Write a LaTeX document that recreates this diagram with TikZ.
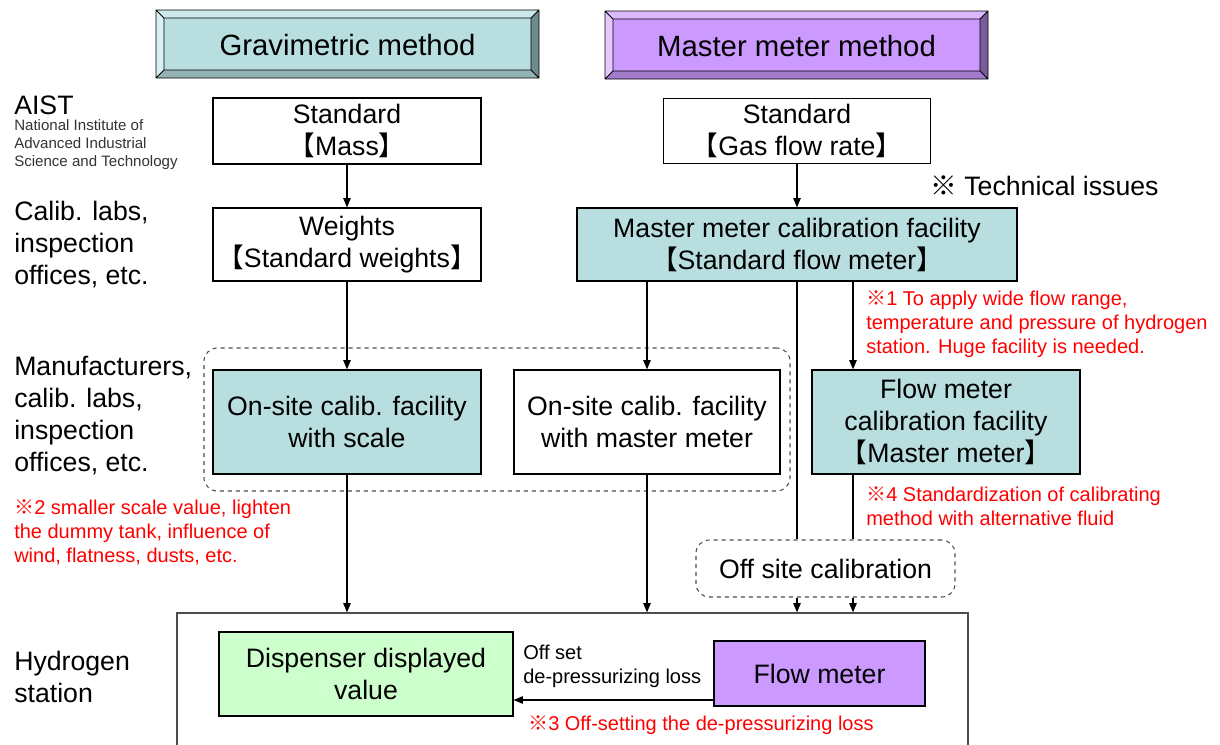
\documentclass[tikz,border=0pt]{standalone}
\usepackage{fontspec}
\setmainfont{Liberation Sans}
\newfontfamily\cjk{Noto Sans CJK JP}
\usetikzlibrary{arrows.meta}
\newcommand\kL{{\cjk 【}}
\newcommand\kR{{\cjk 】}}
\newcommand\kome{{\cjk ※}}
\definecolor{tealF}{RGB}{184,222,224}
\definecolor{tealT}{RGB}{205,233,235}
\definecolor{tealL}{RGB}{218,239,241}
\definecolor{tealR}{RGB}{110,139,140}
\definecolor{tealB}{RGB}{147,178,179}
\definecolor{purF}{RGB}{204,153,255}
\definecolor{purT}{RGB}{220,185,255}
\definecolor{purL}{RGB}{228,200,255}
\definecolor{purR}{RGB}{122,92,153}
\definecolor{purB}{RGB}{163,122,204}
\definecolor{greenF}{RGB}{204,255,204}
\definecolor{noteRed}{RGB}{255,0,0}
\newcommand\bevelbox[5]{%
  \fill[#5F] (#1+8,#2+8) rectangle (#3-8,#4-8);
  \fill[#5T] (#1,#2) -- (#3,#2) -- (#3-8,#2+8) -- (#1+8,#2+8) -- cycle;
  \fill[#5L] (#1,#2) -- (#1+8,#2+8) -- (#1+8,#4-8) -- (#1,#4) -- cycle;
  \fill[#5R] (#3,#2) -- (#3,#4) -- (#3-8,#4-8) -- (#3-8,#2+8) -- cycle;
  \fill[#5B] (#1,#4) -- (#1+8,#4-8) -- (#3-8,#4-8) -- (#3,#4) -- cycle;
  \draw[line width=0.6pt] (#1,#2) rectangle (#3,#4) (#1+8,#2+8) rectangle (#3-8,#4-8)
    (#1,#2) -- (#1+8,#2+8) (#3,#2) -- (#3-8,#2+8) (#1,#4) -- (#1+8,#4-8) (#3,#4) -- (#3-8,#4-8);
}
\tikzset{
  box/.style={draw=black, line width=0.8pt, inner sep=0pt, align=center, font=\fontsize{20}{24}\selectfont},
  arr/.style={line width=1.1pt, -{Triangle[length=7pt,width=5.5pt]}},
  ln/.style={line width=1.1pt},
  lbl/.style={inner sep=0pt, anchor=west, align=left, font=\fontsize{20}{24}\selectfont},
  note/.style={inner sep=0pt, anchor=west, align=left, text=noteRed, font=\fontsize{15}{18}\selectfont},
  dashbox/.style={draw=black!70, dashed, line width=0.8pt, rounded corners=10pt, inner sep=0pt, align=center, font=\fontsize{20}{24}\selectfont},
}
\begin{document}
\begin{tikzpicture}[x=0.75pt,y=-0.75pt]
\useasboundingbox (0,0) rectangle (1220,744);
\clip (0,0) rectangle (1220,744);
% headers
\bevelbox{156}{10}{539}{78}{teal}
\bevelbox{605}{11}{988}{79}{pur}
\node[inner sep=0pt, font=\fontsize{22}{26}\selectfont] (hdr1) at (347.5,45) {Gravimetric method};
\node[inner sep=0pt, font=\fontsize{22}{26}\selectfont] (hdr2) at (796.5,46) {Master meter method};
% left labels
\node[lbl] (aist) at (14,105) {AIST};
\node[inner sep=0pt, anchor=west, align=left, font=\fontsize{11.3}{13.5}\selectfont, text=black!80] (aistfull) at (14,145) {National Institute of\\Advanced Industrial\\Science and Technology};
\node[lbl] (lab1) at (14,245) {Calib. labs,\\inspection\\offices, etc.};
\node[lbl] (lab2) at (14,416) {Manufacturers,\\calib. labs,\\inspection\\offices, etc.};
\node[lbl] (lab3) at (14,677) {Hydrogen\\station};
% groups
\node[dashbox, minimum width=586*0.75pt, minimum height=143*0.75pt] (onsite) at (497,419.5) {};
\node[dashbox, minimum width=259*0.75pt, minimum height=57*0.75pt] (offsite) at (825.5,568.5) {Off site calibration};
\node[draw=black!70, line width=0.8pt, inner sep=0pt, minimum width=791*0.75pt, minimum height=157*0.75pt] (h2) at (572.5,691.5) {};
% boxes
\node[box, minimum width=268*0.75pt, minimum height=66*0.75pt] (std1) at (347,131) {Standard\\\kL Mass\kR};
\node[box, minimum width=267*0.75pt, minimum height=65*0.75pt] (std2) at (797,131) {Standard\\\kL Gas flow rate\kR};
\node[box, minimum width=268*0.75pt, minimum height=73*0.75pt] (wts) at (347,244.5) {Weights\\\kL Standard weights\kR};
\node[box, fill=tealF, minimum width=440*0.75pt, minimum height=73*0.75pt] (mmcal) at (797,244.5) {Master meter calibration facility\\\kL Standard flow meter\kR};
\node[box, fill=tealF, minimum width=268*0.75pt, minimum height=104*0.75pt] (os1) at (347,422) {On-site calib. facility\\with scale};
\node[box, minimum width=266*0.75pt, minimum height=104*0.75pt] (os2) at (647,422) {On-site calib. facility\\with master meter};
\node[box, fill=tealF, minimum width=268*0.75pt, minimum height=104*0.75pt] (fmcal) at (946,422) {Flow meter\\calibration facility\\\kL Master meter\kR};
\node[box, fill=greenF, minimum width=294*0.75pt, minimum height=84*0.75pt] (disp) at (366,674) {Dispenser displayed\\value};
\node[box, fill=purF, minimum width=211*0.75pt, minimum height=65*0.75pt] (fm) at (819.5,673.5) {Flow meter};
% notes
\node[lbl] (tech) at (930,186) {\kome\ Technical issues};
\node[note] (n1) at (866,324) {\kome1 To apply wide flow range,\\temperature and pressure of hydrogen\\station. Huge facility is needed.};
\node[note] (n2) at (14,532) {\kome2 smaller scale value, lighten\\the dummy tank, influence of\\wind, flatness, dusts, etc.};
\node[note] (n3) at (528,725) {\kome3 Off-setting the de-pressurizing loss};
\node[note] (n4) at (866,506) {\kome4 Standardization of calibrating\\method with alternative fluid};
\node[inner sep=0pt, anchor=west, align=left, font=\fontsize{15}{18}\selectfont] (offset) at (523,666) {Off set\\de-pressurizing loss};
% connectors
\coordinate (cx) at (853,0);
\coordinate (cy) at (0,700);
\draw[arr] (std1) -- (wts);
\draw[arr] (std2) -- (mmcal);
\draw[arr] (wts) -- (os1);
\draw[arr] (os2.north |- mmcal.south) -- (os2.north);
\draw[arr] (mmcal.south -| cx) -- (fmcal.north -| cx);
\draw[ln] (mmcal.south) -- (offsite.north -| mmcal.south);
\draw[arr] (offsite.south -| mmcal.south) -- (h2.north -| mmcal.south);
\draw[ln] (fmcal.south -| cx) -- (offsite.north -| cx);
\draw[arr] (offsite.south -| cx) -- (h2.north -| cx);
\draw[arr] (os1.south) -- (os1.south |- h2.north);
\draw[arr] (os2.south) -- (os2.south |- h2.north);
\draw[arr] (fm.west |- cy) -- (disp.east |- cy);
\end{tikzpicture}
\end{document}
